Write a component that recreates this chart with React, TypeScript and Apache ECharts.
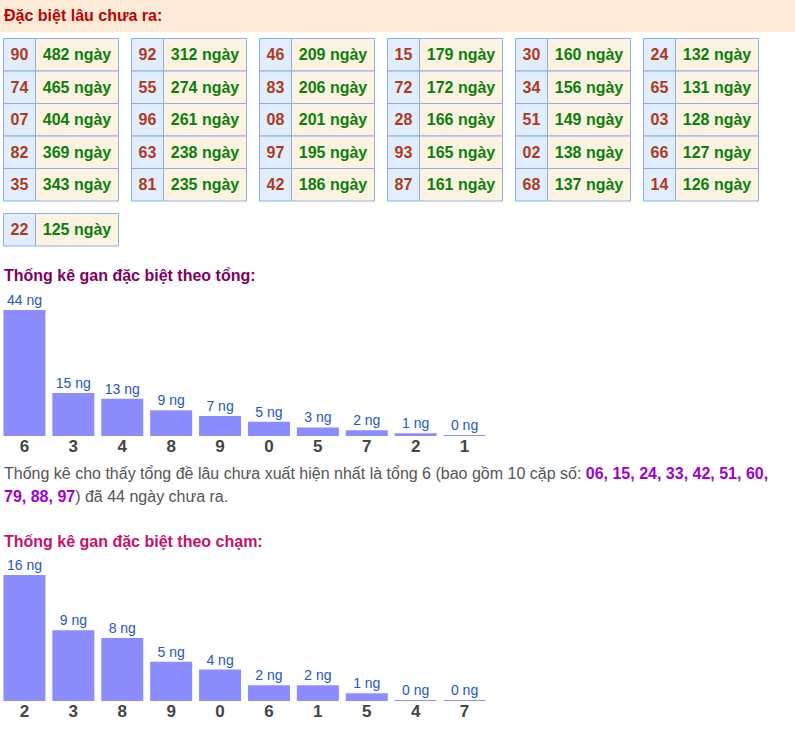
import React, { useEffect, useRef } from 'react';
import * as echarts from 'echarts';

const gapNumbers = ['90','74','07','82','35','92','55','96','63','81','46','83','08','97','42','15','72','28','93','87','30','34','51','02','68','24','65','03','66','14','22'];
const gapDays = [482,465,404,369,343,312,274,261,238,235,209,206,201,195,186,179,172,166,165,161,160,156,149,138,137,132,131,128,127,126,125];

const sumCategories = ['6','3','4','8','9','0','5','7','2','1'];
const sumValues = [44,15,13,9,7,5,3,2,1,0];
const touchCategories = ['2','3','8','9','0','6','1','5','4','7'];
const touchValues = [16,9,8,5,4,2,2,1,0,0];
const sumPairs = ['06','15','24','33','42','51','60','79','88','97'];

const FONT = '"Liberation Sans", Arial, Helvetica, sans-serif';
const ROWS_PER_TABLE = 5;
const TABLES_PER_LINE = 6;
const ROW_H = 32.5;
const NUM_W = 32;
const DAY_W = 83;

function barSeries(values: number[], xi: number) {
  return {
    type: 'bar',
    xAxisIndex: xi,
    yAxisIndex: xi,
    data: values,
    barWidth: 42,
    barMinHeight: 1,
    itemStyle: { color: '#8c8cff' },
    label: {
      show: true,
      position: 'top',
      distance: 3,
      formatter: '{c} ng',
      color: '#2356c8',
      fontSize: 14,
      fontFamily: FONT,
    },
  };
}

function catAxis(cats: string[], gi: number) {
  return {
    type: 'category',
    gridIndex: gi,
    data: cats,
    axisLine: { show: false },
    axisTick: { show: false },
    axisLabel: { color: '#444', fontWeight: 'bold', fontSize: 17, fontFamily: FONT, margin: 2 },
  };
}

export default function App() {
  const ref = useRef<HTMLDivElement>(null);
  useEffect(() => {
    if (!ref.current) return;
    const chart = echarts.init(ref.current, null, { renderer: 'svg' });
    const tableData = gapNumbers.map((_, i) => {
      const t = Math.floor(i / ROWS_PER_TABLE);
      return [t % TABLES_PER_LINE, Math.floor(t / TABLES_PER_LINE), i % ROWS_PER_TABLE];
    });
    const textCommon = { font: `bold 16px ${FONT}`, align: 'center', verticalAlign: 'middle', textAlign: 'center', textVerticalAlign: 'middle' };
    const option: any = {
      animation: false,
      grid: [
        { left: 3, top: 38, width: 768, height: 350 },
        { left: 0, top: 310, width: 489, height: 126 },
        { left: 0, top: 575, width: 489, height: 126 },
      ],
      xAxis: [
        { type: 'value', gridIndex: 0, min: 0, max: 6, show: false },
        catAxis(sumCategories, 1),
        catAxis(touchCategories, 2),
      ],
      yAxis: [
        { type: 'value', gridIndex: 0, min: 0, max: 2, inverse: true, show: false },
        { type: 'value', gridIndex: 1, min: 0, max: Math.max(...sumValues), show: false },
        { type: 'value', gridIndex: 2, min: 0, max: Math.max(...touchValues), show: false },
      ],
      series: [
        {
          type: 'custom',
          xAxisIndex: 0,
          yAxisIndex: 0,
          data: tableData,
          renderItem: (params: any, api: any) => {
            const idx = params.dataIndex;
            const p = api.coord([api.value(0), api.value(1)]);
            const x = p[0] + 0.5;
            const y = p[1] + 0.5 + api.value(2) * ROW_H;
            return {
              type: 'group',
              children: [
                { type: 'rect', shape: { x, y, width: NUM_W, height: ROW_H }, style: { fill: '#e1eefd', stroke: '#8daef0', lineWidth: 1 } },
                { type: 'rect', shape: { x: x + NUM_W, y, width: DAY_W, height: ROW_H }, style: { fill: '#fdf3e2', stroke: '#8daef0', lineWidth: 1 } },
                { type: 'text', style: { ...textCommon, text: gapNumbers[idx], x: x + NUM_W / 2, y: y + ROW_H / 2, fill: '#b23a1c' } },
                { type: 'text', style: { ...textCommon, text: `${gapDays[idx]} ngày`, x: x + NUM_W + DAY_W / 2, y: y + ROW_H / 2, fill: '#0b800b' } },
              ],
            };
          },
        },
        barSeries(sumValues, 1),
        barSeries(touchValues, 2),
      ],
      graphic: [
        { type: 'rect', left: 0, top: 0, shape: { width: 795, height: 32 }, style: { fill: '#fdebd7' } },
        { type: 'text', left: 4, top: 7, style: { text: 'Đặc biệt lâu chưa ra:', font: `bold 16px ${FONT}`, fill: '#c40000' } },
        { type: 'text', left: 4, top: 267, style: { text: 'Thống kê gan đặc biệt theo tổng:', font: `bold 16px ${FONT}`, fill: '#800060' } },
        {
          type: 'text', left: 4, top: 465,
          style: {
            text: `{n|Thống kê cho thấy tổng đề lâu chưa xuất hiện nhất là tổng ${sumCategories[0]} (bao gồm ${sumPairs.length} cặp số: }{p|${sumPairs.slice(0, 7).join(', ')},}\n{p|${sumPairs.slice(7).join(', ')}}{n|) đã ${sumValues[0]} ngày chưa ra.}`,
            rich: {
              n: { font: `16px ${FONT}`, fill: '#555555', lineHeight: 23 },
              p: { font: `bold 16px ${FONT}`, fill: '#a000cc', lineHeight: 23 },
            },
          },
        },
        { type: 'text', left: 4, top: 533, style: { text: 'Thống kê gan đặc biệt theo chạm:', font: `bold 16px ${FONT}`, fill: '#c8106e' } },
      ],
    };
    chart.setOption(option);
    return () => chart.dispose();
  }, []);
  return <div ref={ref} style={{ position: 'absolute', left: 0, top: 0, width: 795, height: 730 }} />;
}
